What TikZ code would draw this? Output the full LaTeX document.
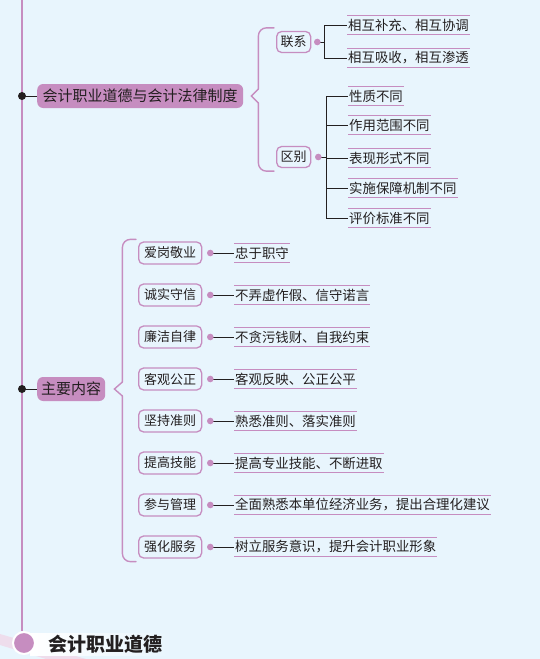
\documentclass[tikz,border=0pt]{standalone}
\usepackage{fontspec}
\newfontfamily\cjk{Noto Sans CJK SC}
\usetikzlibrary{calc,positioning}
\definecolor{bg}{HTML}{E8F5FD}
\definecolor{lilac}{HTML}{C68DC0}
\definecolor{ink}{HTML}{231F20}

\begin{document}
\begin{tikzpicture}[x=1pt,y=-1pt,
  topic/.style={fill=lilac,rounded corners=6pt,inner xsep=4pt,inner ysep=0pt,minimum height=24pt,anchor=west,text=ink,font=\cjk\fontsize{15}{15}\selectfont},
  sub/.style={draw=lilac,line width=1.3pt,rounded corners=5pt,inner xsep=4pt,inner ysep=0pt,minimum height=22pt,anchor=west,text=ink,font=\cjk\fontsize{13}{13}\selectfont},
  leaf/.style={inner xsep=1pt,inner ysep=0pt,minimum height=18pt,anchor=west,text=ink,font=\cjk\fontsize{13.4}{13.4}\selectfont},
  rule/.style={draw=lilac,line width=0.8pt},
  brace/.style={draw=lilac,line width=1.4pt,line cap=round},
  link/.style={draw=ink,line width=0.8pt}]
  \fill[bg] (0,0) rectangle (540,659);
  \useasboundingbox (0,0) rectangle (540,659);
  % trunk and title at the foot
  \fill[lilac!30] (0,634)--(86,659)--(46,659)--(0,645)--cycle;
  \shade[left color=white,right color=bg] (30,633) rectangle (172,655);
  \coordinate (top) at (22,0);
  \node[circle,fill=lilac,draw=white,line width=2pt,minimum size=22pt,inner sep=0pt] (hub) at (24,643) {};
  \draw[lilac,line width=2pt] (top)--(top |- hub.north);
  \node[anchor=west,text=ink,font=\cjk\bfseries\fontsize{19}{19}\selectfont] (title) at (45,644) {会计职业道德};
  % first branch
  \coordinate (d1) at (22,96); \coordinate (d2) at (22,389);
  \node[topic,minimum width=206pt] (law) at (37,96) {会计职业道德与会计法律制度};
  \node[topic,minimum width=67pt] (content) at (37,389) {主要内容};
  \draw[link] (d1)--(law.west) (d2)--(content.west);
  \foreach \p in {d1,d2}\fill[ink](\p)circle(4pt);
  \node[sub,minimum height=21pt] (lianxi) at (276,42) {联系};
  \node[sub,minimum height=21pt] (qubie) at (276,157) {区别};
  \draw[brace,rounded corners=8pt] ([shift={(-2,-3)}]lianxi.north west) -| ([shift={(15,-7)}]law.east);
  \draw[brace] ([shift={(15,-7)}]law.east)--([xshift=8pt]law.east)--([shift={(15,7)}]law.east);
  \draw[brace,rounded corners=8pt] ([shift={(15,7)}]law.east) |- ([shift={(-2,3)}]qubie.south west);
  \coordinate (lxDot) at ([xshift=6pt]lianxi.east); \coordinate (qbDot) at ([xshift=7pt]qubie.east);
  \foreach \y/\t [count=\i] in {25/相互补充、相互协调,58/相互吸收，相互渗透}{
    \node[leaf] (a\i) at (347,\y) {\t};
    \draw[rule] (a\i.north west)--(a\i.north east) (a\i.south west)--(a\i.south east);
    \draw[link] (lxDot)--++(7,0)|-(a\i.west);
  }
  \foreach \y/\t [count=\i] in {96/性质不同,125/作用范围不同,158/表现形式不同,188/实施保障机制不同,218/评价标准不同}{
    \node[leaf] (b\i) at (348,\y) {\t};
    \draw[rule] (b\i.north west)--(b\i.north east) (b\i.south west)--(b\i.south east);
    \draw[link] (qbDot)--++(8,0)|-(b\i.west);
  }
  \foreach \p in {lxDot,qbDot}\fill[lilac](\p)circle(3.3pt);
  % second branch
  \foreach \t/\d [count=\i] in {爱岗敬业/忠于职守,诚实守信/不弄虚作假、信守诺言,廉洁自律/不贪污钱财、自我约束,客观公正/客观反映、公正公平,坚持准则/熟悉准则、落实准则,提高技能/提高专业技能、不断进取,参与管理/全面熟悉本单位经济业务，提出合理化建议,强化服务/树立服务意识，提升会计职业形象}{
    \node[sub,minimum width=63pt] (s\i) at (138,211+42*\i) {\t};
    \coordinate (sd\i) at ([xshift=8pt]s\i.east);
    \node[leaf] (c\i) at (234,211+42*\i) {\d};
    \draw[rule] (c\i.north west)--(c\i.north east) (c\i.south west)--(c\i.south east);
    \draw[link] (sd\i)--(c\i.west);
    \fill[lilac] (sd\i) circle (3.3pt);
  }
  \draw[brace,rounded corners=8pt] ([shift={(-2,-2)}]s1.north west) -| ([shift={(17,-7)}]content.east);
  \draw[brace] ([shift={(17,-7)}]content.east)--([xshift=9pt]content.east)--([shift={(17,7)}]content.east);
  \draw[brace,rounded corners=8pt] ([shift={(17,7)}]content.east) |- ([shift={(-2,3)}]s8.south west);
\end{tikzpicture}
\end{document}
